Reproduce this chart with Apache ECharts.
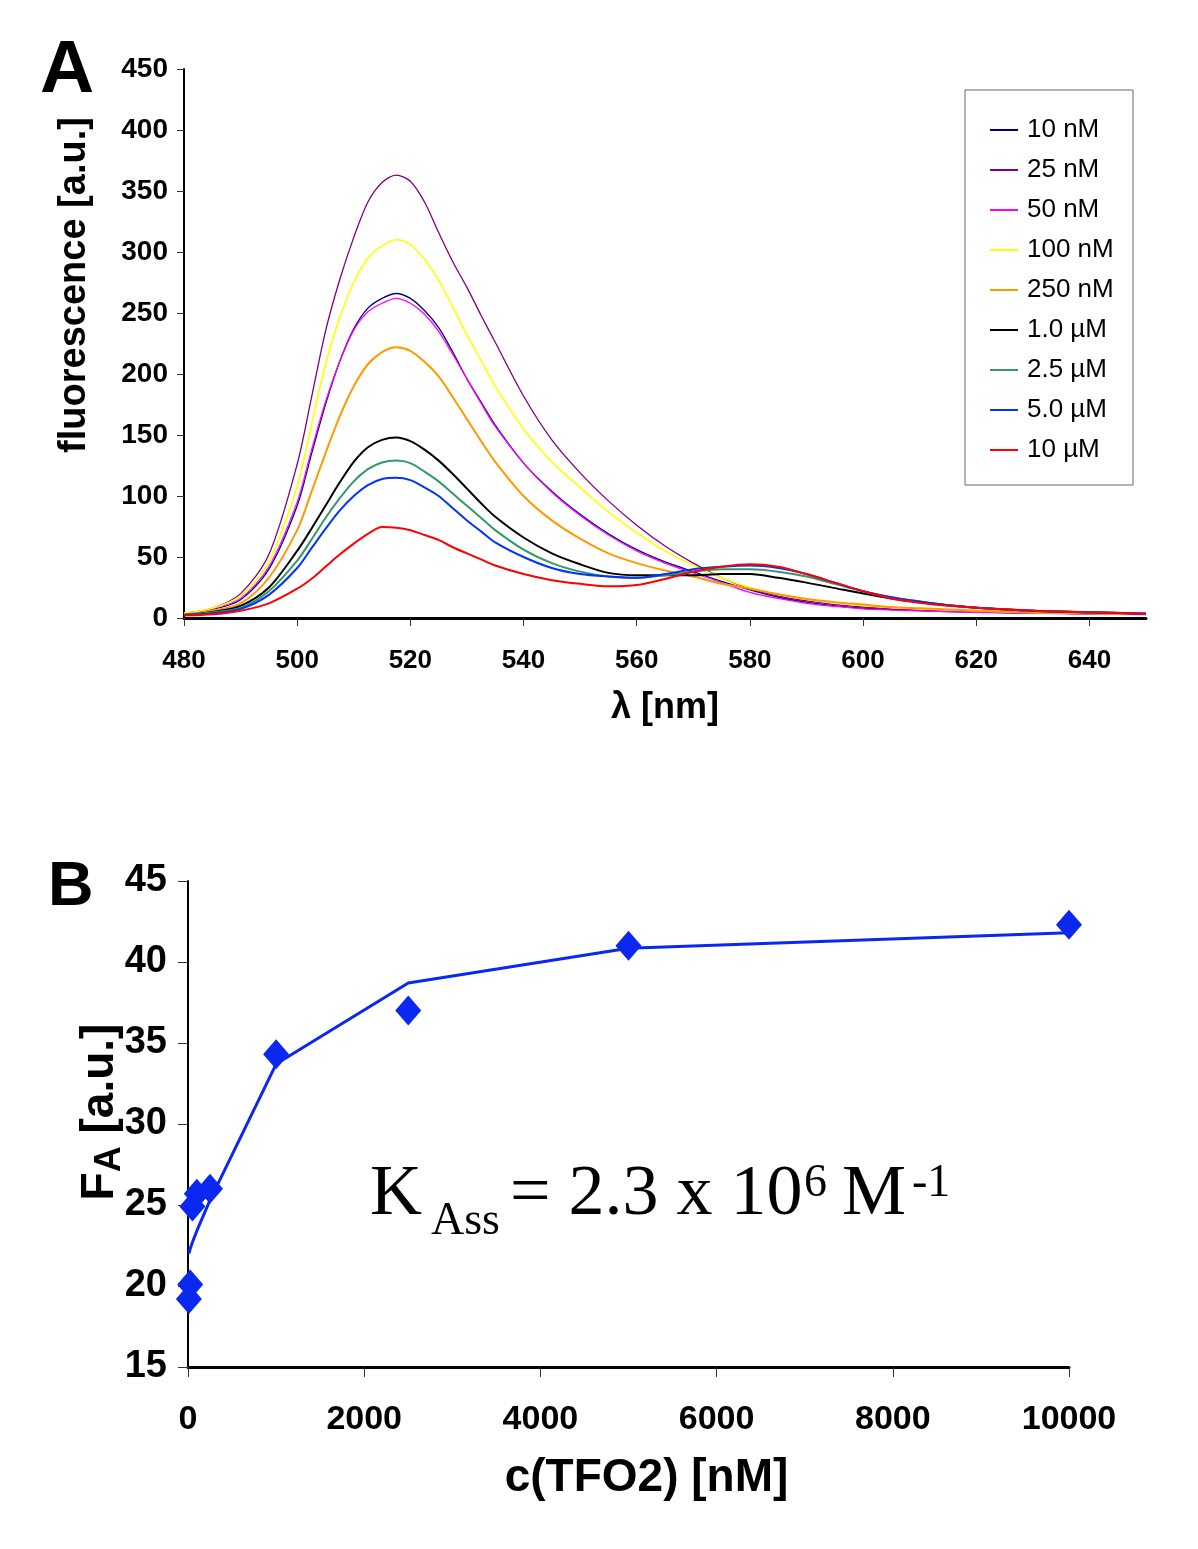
<!DOCTYPE html>
<html><head><meta charset="utf-8">
<script src="https://cdn.jsdelivr.net/npm/echarts@6/dist/echarts.min.js"></script>
<style>html,body{margin:0;padding:0;background:#fff}#c{width:1198px;height:1549px}</style>
</head><body><div id="c"></div>
<script>
// ---------- Panel A data ----------
const wavelengths = [480,485,490,495,500,502.5,505,507.5,510,512.5,515,517.5,520,522.5,525,527.5,530,532.5,535,540,545,550,555,560,565,570,575,580,585,590,595,600,605,610,615,620,630,640,650];
const f10nM  = [3.5,7,15,40,92,134,175,210,237,254,262,266,262,252,238,218,196,177,158,127,104,85,69,56,46,38,30,23,17,13,10,8,7,6,5.3,4.8,4,3.5,3];
const f25nM  = [4,8,20,52,126,180,235,277,312,341,357,363,358,341,316,292,271,248,226,182,146,119,96,76,59,45,33,24,18,14,11,9,7.5,6.5,5.7,5,4,3.5,3];
const f50nM  = [3.5,7.5,16,42,95,137,177,210,236,251,258,262,258,249,235,216,196,176,157,127,103,84,68,55,45,37,29,21,16,12,9.5,7.5,6.5,5.8,5.2,4.6,3.8,3.3,2.8];
const f100nM = [4,8,18,46,108,158,208,246,275,295,305,310,306,294,277,255,232,211,190,155,128,107,87,70,55,43,33,25,19.5,15.5,12.5,10,8.5,7.5,6.5,6,4.5,3.8,3.2];
const f250nM = [3,6,12,33,72,103,135,165,190,208,218,222,219,210,198,181,163,145,128,100,80,65,53,45,39,34,28,24,19.5,15.5,13,11,9,8,7,6,4.5,3.8,3.2];
const f1uM   = [2.5,5,10,25,55,73,92,111,128,140,146,148,145,138,129,118,106,94,83,66,53,44,37,35,35,35,36,36,33,29,24.5,20,16,13,10.5,8.5,6,4.8,3.5];
const f2_5uM = [2.5,4.5,8.5,22,47,64,82,98,112,122,127.5,129,127,120,112,102,92,82,72,56,45,38,34,33,35,38,40,40,38,34,28,22,17,13.5,10.5,8.5,6,4.6,3.5];
const f5uM   = [2.5,4,7.5,19,41,57,73,88,100,109,114,115,113,107,100,90,80,71,62,50,41,36,34,33,36,40,42,43,41,36,29,22,17,13.5,10.5,8.5,6,4.6,3.5];
const f10uM  = [2,3,6,12,24,32,42,52,61,69,74.5,74,72,68,64,58,53,48,43,36,31,28,26,27,32,38,42,44,42,36,29,22,16,12.5,10,8.5,6,4.8,3.5];
const seriesNamesA = ['10 nM','25 nM','50 nM','100 nM','250 nM','1.0 µM','2.5 µM','5.0 µM','10 µM'];
const seriesValuesA = [f10nM,f25nM,f50nM,f100nM,f250nM,f1uM,f2_5uM,f5uM,f10uM];
const xTickLabelsA = [480,500,520,540,560,580,600,620,640];

// ---------- Panel B data ----------
const concentrations = [10,25,50,100,250,1000,2500,5000,10000];
const faMeasured = [19.2,20.1,24.9,25.7,26.0,34.3,37.0,41.0,42.3];
const faFit = [22.0,22.3,22.7,23.4,25.3,33.7,38.7,40.85,41.8];

// ---------- styles ----------
const colorsA = ['#000080','#800080','#FF00FF','#FFFF00','#FF9900','#000000','#339966','#0033FF','#FF0000'];
const widthsA = [1.3,1.3,1.3,1.6,2,2,2,2,2];
const blueB = '#0A28F0';
const sans = "'Liberation Sans', Arial, sans-serif";

const chart = echarts.init(document.getElementById('c'), null, {renderer:'canvas'});

const seriesA = seriesNamesA.map((name,i)=>({
  name, type:'line', xAxisIndex:0, yAxisIndex:0,
  data: wavelengths.map((w,j)=>[w, seriesValuesA[i][j]]),
  showSymbol:false, smooth:0.3, animation:false,
  itemStyle:{color:colorsA[i]},
  lineStyle:{color:colorsA[i], width:widthsA[i]}
}));

function serifText(txt, x, y, size){
  return {type:'text', style:{text:txt, x:x, y:y, align:'left', verticalAlign:'middle',
    font: size + "px 'Liberation Serif', 'Times New Roman', serif", fill:'#000'}};
}

const option = {
  backgroundColor:'#ffffff',
  animation:false,
  textStyle:{fontFamily:sans},
  grid:[
    {left:184, top:69, width:962, height:549},
    {left:188, top:881, width:881, height:486}
  ],
  legend:{
    data:seriesNamesA, orient:'vertical', left:990, top:117, padding:0,
    itemWidth:28, itemHeight:2, itemGap:14, icon:'rect', selectedMode:false,
    textStyle:{fontSize:26, color:'#000', fontFamily:sans, padding:[0,0,0,4]}
  },
  xAxis:[
    {type:'value', gridIndex:0, min:480, max:650, interval:20,
     axisLine:{lineStyle:{color:'#000', width:3}},
     axisTick:{show:true, length:8, customValues:xTickLabelsA, lineStyle:{color:'#333', width:1}},
     axisLabel:{customValues:xTickLabelsA, fontSize:26, fontWeight:'bold', color:'#000', margin:30, fontFamily:sans},
     splitLine:{show:false},
     name:'λ [nm]', nameLocation:'middle', nameGap:72,
     nameTextStyle:{fontSize:36, fontWeight:'bold', color:'#000', fontFamily:sans}},
    {type:'value', gridIndex:1, min:0, max:10000, interval:2000,
     axisLine:{lineStyle:{color:'#000', width:3}},
     axisTick:{show:true, length:10, lineStyle:{color:'#333', width:1}},
     axisLabel:{fontSize:34, fontWeight:'bold', color:'#000', margin:36, fontFamily:sans,
       formatter:(v)=>String(v)},
     splitLine:{show:false},
     name:'c(TFO2) [nM]', nameLocation:'middle', nameGap:88,
     nameTextStyle:{fontSize:46, fontWeight:'bold', color:'#000', fontFamily:sans, padding:[0,0,0,36]}}
  ],
  yAxis:[
    {type:'value', gridIndex:0, min:0, max:450, interval:50,
     axisLine:{show:true, lineStyle:{color:'#000', width:2}},
     axisTick:{show:true, length:7, lineStyle:{color:'#333', width:1}},
     axisLabel:{fontSize:28, fontWeight:'bold', color:'#000', margin:16, fontFamily:sans},
     splitLine:{show:false},
     name:'fluorescence [a.u.]', nameLocation:'middle', nameRotate:90, nameGap:90,
     nameTextStyle:{fontSize:38, fontWeight:'bold', color:'#000', fontFamily:sans, padding:[0,0,0,117]}},
    {type:'value', gridIndex:1, min:15, max:45, interval:5,
     axisLine:{show:true, lineStyle:{color:'#000', width:2}},
     axisTick:{show:true, length:10, lineStyle:{color:'#333', width:1}},
     axisLabel:{fontSize:38, fontWeight:'bold', color:'#000', margin:21, fontFamily:sans},
     splitLine:{show:false},
     name:'{f|F}{a|A}{f| [a.u.]}', nameLocation:'middle', nameRotate:90, nameGap:60, nameMoveOverlap:false,
     nameTextStyle:{fontSize:46, fontWeight:'bold', color:'#000', fontFamily:sans, padding:[0,0,0,24],
       rich:{
         f:{fontSize:46, fontWeight:'bold', lineHeight:56, color:'#000', fontFamily:sans},
         a:{fontSize:36, fontWeight:'bold', lineHeight:36, verticalAlign:'bottom', color:'#000', fontFamily:sans}
       }}}
  ],
  graphic:[
    {type:'rect', shape:{x:965, y:90, width:168, height:395}, style:{fill:'none', stroke:'#666', lineWidth:1}, z:-1},
    {type:'text', left:40, top:34, style:{text:'A', font:"bold 75px 'Liberation Sans', Arial, sans-serif", fill:'#000'}},
    {type:'text', left:48, top:856, style:{text:'B', font:"bold 63px 'Liberation Sans', Arial, sans-serif", fill:'#000'}},
    serifText('K', 370, 1195, 72),
    serifText('Ass', 431, 1222, 46),
    serifText('= 2.3 x 10', 510, 1195, 72),
    serifText('6', 804, 1184, 46),
    serifText('M', 842, 1195, 72),
    serifText('-1', 912, 1184, 46)
  ],
  series: seriesA.concat([
    {name:'fit', type:'line', xAxisIndex:1, yAxisIndex:1,
     data: concentrations.map((c,i)=>[c, faFit[i]]),
     showSymbol:false, lineStyle:{color:blueB, width:3}, itemStyle:{color:blueB}, z:2},
    {name:'FA', type:'scatter', xAxisIndex:1, yAxisIndex:1,
     data: concentrations.map((c,i)=>[c, faMeasured[i]]),
     symbol:'diamond', symbolSize:[26,30], itemStyle:{color:blueB, opacity:1}, z:3}
  ])
};
chart.setOption(option);
</script>
</body></html>
